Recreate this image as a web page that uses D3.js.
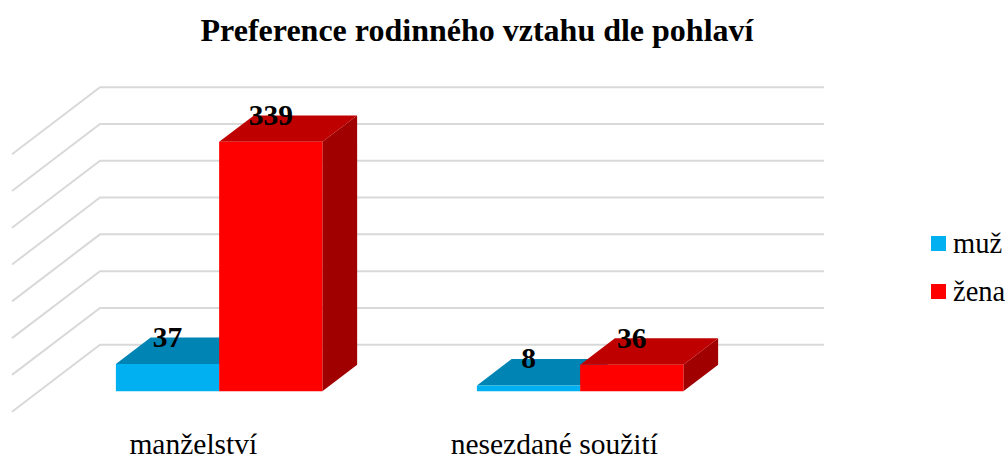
<!DOCTYPE html>
<html>
<head>
<meta charset="utf-8">
<script src="https://cdnjs.cloudflare.com/ajax/libs/d3/7.8.5/d3.min.js"></script>
<style>
html, body { margin: 0; padding: 0; background: #fff; }
svg { display: block; font-family: "Liberation Serif", serif; }
</style>
</head>
<body>
<svg></svg>
<script>
const categories = ['manželství', 'nesezdané soužití'];
const seriesNames = ['muž', 'žena'];
const muz = [37, 8];
const zena = [339, 36];
const yTicks = [0, 50, 100, 150, 200, 250, 300, 350];

const width = 1008;
const height = 457;
const colors = {
    'muž': { front: '#00b0f0', top: '#0084b4' },
    'žena': { front: '#ff0000', top: '#bf0000', side: '#a00000' }
};
const values = { 'muž': muz, 'žena': zena };

const svg = d3.select('svg')
    .attr('width', width)
    .attr('height', height);

// front edge of the floor, the rest is pushed back with depth
const xScale = d3.scaleBand()
    .domain(categories)
    .range([11.8, 733.8])
    .paddingInner(0.428)
    .paddingOuter(0.214);

const xSeries = d3.scaleBand()
    .domain(seriesNames)
    .range([0, xScale.bandwidth()]);

const yScale = d3.scaleLinear()
    .domain([0, 350])
    .range([411.7, 154.2]);

const depthX = d3.scaleLinear().domain([0, 1]).range([0, 88]);
const depthY = d3.scaleLinear().domain([0, 1]).range([0, -67]);

const barFront = 0.305;
const barBack = 0.7;

const pt = (x, value, depth) => [x + depthX(depth), yScale(value) + depthY(depth)];
const poly = pts => pts.map(p => p.join(',')).join(' ');

// grid
const grid = svg.append('g').classed('grid', true);
yTicks.forEach(t => {
    grid.append('polyline')
        .attr('points', poly([pt(12, t, 0), pt(12, t, 1), pt(736, t, 1)]))
        .attr('fill', 'none')
        .attr('stroke', '#d9d9d9')
        .attr('stroke-width', 2);
});

// bars
const bars = svg.append('g').classed('bars', true);
categories.forEach((c, i) => {
    seriesNames.forEach(s => {
        const v = values[s][i];
        const x0 = xScale(c) + xSeries(s);
        const x1 = x0 + xSeries.bandwidth();
        const col = colors[s];
        if (col.side) {
            bars.append('polygon')
                .attr('points', poly([pt(x1, 0, barFront), pt(x1, 0, barBack), pt(x1, v, barBack), pt(x1, v, barFront)]))
                .attr('fill', col.side);
        }
        bars.append('polygon')
            .attr('points', poly([pt(x0, v, barFront), pt(x0, v, barBack), pt(x1, v, barBack), pt(x1, v, barFront)]))
            .attr('fill', col.top);
        bars.append('polygon')
            .attr('points', poly([pt(x0, 0, barFront), pt(x0, v, barFront), pt(x1, v, barFront), pt(x1, 0, barFront)]))
            .attr('fill', col.front);
    });
});

// value labels
categories.forEach((c, i) => {
    seriesNames.forEach(s => {
        const v = values[s][i];
        const p = pt(xScale(c) + xSeries(s) + xSeries.bandwidth() / 2, v, barFront);
        svg.append('text')
            .attr('x', p[0])
            .attr('y', p[1] - 17)
            .style('text-anchor', 'middle')
            .style('font-size', '29.5px')
            .style('font-weight', 'bold')
            .text(v);
    });
});

// category labels
const xAxis = d3.axisBottom(xScale).tickSize(0);
const axisG = svg.append('g')
    .attr('transform', 'translate(1, 428)')
    .call(xAxis);
axisG.select('.domain').remove();
axisG.selectAll('text')
    .attr('font-family', '"Liberation Serif", serif')
    .attr('fill', '#000')
    .attr('dy', 0)
    .attr('y', 26)
    .style('font-size', '29.5px');

svg.append('text')
    .attr('x', 477)
    .attr('y', 41)
    .style('text-anchor', 'middle')
    .style('font-size', '32px')
    .style('font-weight', 'bold')
    .text('Preference rodinného vztahu dle pohlaví');

// legend
const legend = svg.selectAll('.legend')
    .data(seriesNames)
    .enter()
    .append('g')
    .classed('legend', true)
    .attr('transform', (d, i) => `translate(931, ${236 + i * 48})`);

legend.append('rect')
    .attr('width', 15)
    .attr('height', 15)
    .attr('fill', d => colors[d].front);

legend.append('text')
    .attr('x', 22)
    .attr('y', 17)
    .style('font-size', '28.5px')
    .text(d => d);
</script>
</body>
</html>
